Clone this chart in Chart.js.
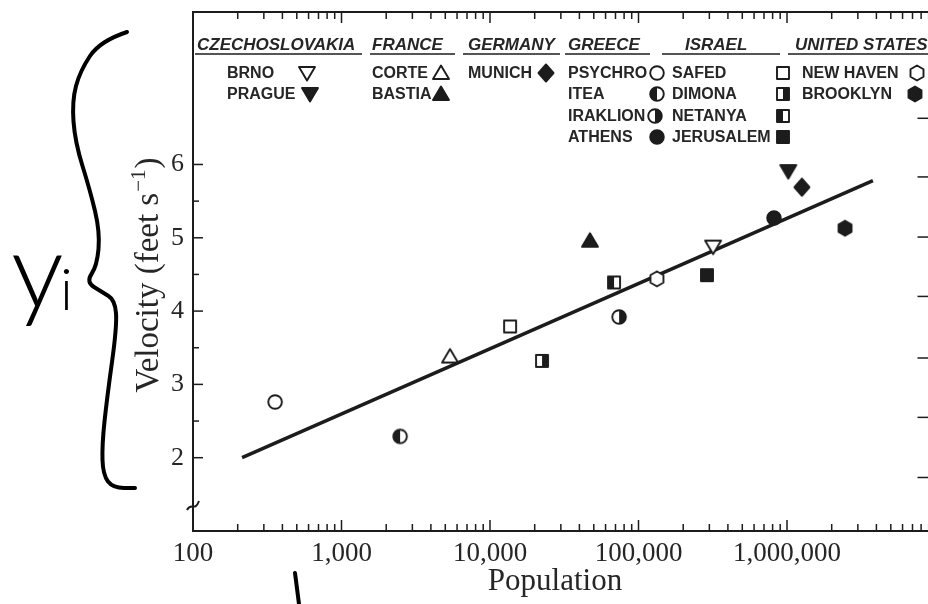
<!DOCTYPE html>
<html>
<head>
<meta charset="utf-8">
<script src="https://cdn.jsdelivr.net/npm/chart.js@4.4.1/dist/chart.umd.min.js"></script>
<style>
  html, body { margin: 0; padding: 0; background: #fff; overflow: hidden; }
  #wrap { position: relative; width: 945px; height: 604px; }
</style>
</head>
<body>
<div id="wrap"><canvas id="chart"></canvas></div>
<script>
// walking speed vs. city population
const cities = ['BRNO', 'PRAGUE', 'CORTE', 'BASTIA', 'MUNICH', 'PSYCHRO', 'ITEA', 'IRAKLION', 'ATHENS',
  'SAFED', 'DIMONA', 'NETANYA', 'JERUSALEM', 'NEW HAVEN', 'BROOKLYN'];
const countryOf = [0, 0, 1, 1, 2, 3, 3, 3, 3, 4, 4, 4, 4, 5, 5];
const population = [318000, 1020000, 5380, 47100, 1260000, 357, 2480, 74000, 817000,
  13650, 22400, 68400, 289000, 133000, 2460000];
const velocity = [4.88, 5.91, 3.38, 4.96, 5.69, 2.76, 2.29, 3.92, 5.27,
  3.79, 3.32, 4.39, 4.49, 4.44, 5.13];
const markers = ['triDownOpen', 'triDown', 'triUpOpen', 'triUp', 'diamond', 'circleOpen', 'circleLeft', 'circleRight', 'circle',
  'squareOpen', 'squareRight', 'squareLeft', 'square', 'hexOpen', 'hex'];
const countries = ['CZECHOSLOVAKIA', 'FRANCE', 'GERMANY', 'GREECE', 'ISRAEL', 'UNITED STATES'];

// fitted line end points
const fitPopulation = [214, 3790000];
const fitVelocity = [2.0, 5.78];

const xDecades = [100, 1000, 10000, 100000, 1000000];
const xTickLabels = ['100', '1,000', '10,000', '100,000', '1,000,000'];
const yTickValues = [2, 2.5, 3, 3.5, 4, 4.5, 5, 5.5, 6];
const yTickLabels = ['2', '3', '4', '5', '6'];
const rightTicks = [1.73, 2.55, 3.36, 4.2, 5.01, 5.83, 6.63]; // right-side ticks, read in ft/s

const INK = '#1c1c1c';
const TXT = '#262626';

// legend placement (text x, row, symbol x) and header placement
const headerX = [197, 372, 468, 568, 685, 795];
const underline = [[195, 362], [370, 455], [463, 560], [565, 650], [662, 780], [788, 945]];
const rowY = [73, 94, 116, 137];
const entryPos = [[227, 0, 307], [227, 1, 310], [372, 0, 441], [372, 1, 441], [468, 0, 546],
  [568, 0, 657], [568, 1, 657], [568, 2, 655], [568, 3, 657],
  [672, 0, 783], [672, 1, 783], [672, 2, 783], [672, 3, 783],
  [802, 0, 917], [802, 1, 915]];

function makeMarker(kind) {
  const s = 20, m = 10;
  const c = document.createElement('canvas');
  c.width = s; c.height = s;
  const g = c.getContext('2d');
  g.strokeStyle = INK; g.fillStyle = INK; g.lineWidth = 1.9; g.lineJoin = 'round';
  const open = kind.endsWith('Open');
  const shape = kind.replace('Open', '').replace(/(Left|Right)$/, '');
  const half = kind.endsWith('Left') ? 'L' : kind.endsWith('Right') ? 'R' : '';
  g.beginPath();
  if (shape === 'triUp') { g.moveTo(m, m - 7.5); g.lineTo(m + 8, m + 6); g.lineTo(m - 8, m + 6); g.closePath(); }
  else if (shape === 'triDown') { g.moveTo(m, m + 7.5); g.lineTo(m + 8, m - 6); g.lineTo(m - 8, m - 6); g.closePath(); }
  else if (shape === 'diamond') { g.moveTo(m, m - 8.5); g.lineTo(m + 7.5, m); g.lineTo(m, m + 8.5); g.lineTo(m - 7.5, m); g.closePath(); }
  else if (shape === 'circle') { g.arc(m, m, 6.8, 0, Math.PI * 2); }
  else if (shape === 'square') { g.rect(m - 6, m - 6, 12, 12); }
  else if (shape === 'hex') {
    for (let k = 0; k < 6; k++) {
      const a = Math.PI / 6 + k * Math.PI / 3;
      const px = m + 7.5 * Math.cos(a), py = m + 7.5 * Math.sin(a);
      k ? g.lineTo(px, py) : g.moveTo(px, py);
    }
    g.closePath();
  }
  if (open || half) {
    g.fillStyle = '#fff'; g.fill(); g.stroke();
    if (half) {
      g.save(); g.clip();
      g.fillStyle = INK;
      if (half === 'L') g.fillRect(0, 0, m, s); else g.fillRect(m, 0, m, s);
      g.restore();
    }
  } else {
    g.fill(); g.stroke();
  }
  return c;
}
const markerImg = {};
markers.forEach(k => { markerImg[k] = makeMarker(k); });

function isDecade(v) {
  const e = Math.log10(v);
  return Math.abs(e - Math.round(e)) < 1e-9;
}

function line(g, x1, y1, x2, y2) {
  g.beginPath(); g.moveTo(x1, y1); g.lineTo(x2, y2); g.stroke();
}

function smoothPath(g, pts) {
  g.beginPath();
  g.moveTo(pts[0][0], pts[0][1]);
  for (let i = 1; i < pts.length - 1; i++) {
    const mx = (pts[i][0] + pts[i + 1][0]) / 2, my = (pts[i][1] + pts[i + 1][1]) / 2;
    g.quadraticCurveTo(pts[i][0], pts[i][1], mx, my);
  }
  const last = pts[pts.length - 1];
  g.lineTo(last[0], last[1]);
  g.stroke();
}

const paper = {
  id: 'paper',
  beforeDraw(chart) {
    const g = chart.ctx;
    g.save(); g.fillStyle = '#fff'; g.fillRect(0, 0, chart.width, chart.height); g.restore();
  },
  afterDatasetsDraw(chart) {
    const g = chart.ctx, a = chart.chartArea, xs = chart.scales.x, ys = chart.scales.y;
    g.save();
    g.strokeStyle = INK;
    g.lineWidth = 2;
    g.strokeRect(a.left, a.top, a.right - a.left, a.bottom - a.top);

    // inward ticks
    g.lineWidth = 1.5;
    xs.ticks.forEach(t => {
      const px = xs.getPixelForValue(t.value);
      const len = isDecade(t.value) ? 11 : 7;
      line(g, px, a.bottom, px, a.bottom - len);
      line(g, px, a.top, px, a.top + len);
    });
    ys.ticks.forEach(t => {
      const py = ys.getPixelForValue(t.value);
      line(g, a.left, py, a.left + (Number.isInteger(t.value) ? 10 : 6), py);
    });
    rightTicks.forEach(v => {
      const py = ys.getPixelForValue(v);
      line(g, a.right, py, a.right - 18, py);
    });

    // axis breaks
    g.lineWidth = 2;
    [a.left, a.right].forEach(bx => {
      g.beginPath();
      g.moveTo(bx - 6, 510); g.bezierCurveTo(bx - 2, 502, bx + 2, 512, bx + 6, 501);
      g.stroke();
    });

    // legend
    g.fillStyle = TXT;
    g.textAlign = 'left';
    g.textBaseline = 'alphabetic';
    g.font = 'italic bold 17px "Liberation Sans"';
    countries.forEach((n, i) => g.fillText(n, headerX[i], 50));
    g.lineWidth = 1.5;
    underline.forEach(([x1, x2]) => line(g, x1, 54, x2, 54));
    g.font = 'bold 16px "Liberation Sans"';
    g.textBaseline = 'middle';
    cities.forEach((c, i) => {
      const [tx, r, sx] = entryPos[i];
      g.fillText(c, tx, rowY[r] + 1);
      g.drawImage(markerImg[markers[i]], sx - 10, rowY[r] - 10);
    });

    // axis titles
    g.fillStyle = TXT;
    g.font = '31px "Liberation Serif"';
    g.textAlign = 'center';
    g.textBaseline = 'middle';
    g.fillText('Population', 555, 582);

    g.save();
    g.translate(147, 275);
    g.rotate(-Math.PI / 2);
    const main = 'Velocity (feet s', sup = '\u22121', end = ')';
    g.font = '33px "Liberation Serif"';
    const w1 = g.measureText(main).width, w3 = g.measureText(end).width;
    g.font = '21px "Liberation Serif"';
    const w2 = g.measureText(sup).width;
    const px = -(w1 + w2 + w3 + 2) / 2;
    g.textAlign = 'left';
    g.textBaseline = 'alphabetic';
    g.font = '33px "Liberation Serif"';
    g.fillText(main, px, 11);
    g.font = '21px "Liberation Serif"';
    g.fillText(sup, px + w1 + 1, -2);
    g.font = '33px "Liberation Serif"';
    g.fillText(end, px + w1 + w2 + 2, 11);
    g.restore();

    // handwritten annotation
    g.strokeStyle = '#000';
    g.lineWidth = 4;
    g.lineCap = 'round'; g.lineJoin = 'round';
    smoothPath(g, [[127, 32], [100, 41], [80, 71], [72, 101], [75, 142], [90, 190], [100, 232], [97, 266],
      [86, 282], [102, 292], [115, 300], [117, 326], [107, 398], [102, 445], [103, 475], [113, 488], [135, 488]]);
    line(g, 295, 573, 299, 604);
    g.fillStyle = '#000';
    g.textAlign = 'left';
    g.textBaseline = 'alphabetic';
    g.font = '300 105px Lato';
    g.fillText('y', 11, 308);
    g.font = '300 58px Lato';
    g.fillText('i', 60, 310);
    g.restore();
  }
};

const chart = new Chart(document.getElementById('chart'), {
  type: 'scatter',
  data: {
    datasets: [{
      data: population.map((p, i) => ({ x: p, y: velocity[i] })),
      pointStyle: ctx => markerImg[markers[ctx.dataIndex]],
      pointRadius: 8,
      pointHoverRadius: 8
    }, {
      type: 'line',
      data: fitPopulation.map((p, i) => ({ x: p, y: fitVelocity[i] })),
      showLine: true,
      borderColor: INK,
      borderWidth: 3.5,
      pointRadius: 0,
      fill: false
    }]
  },
  options: {
    responsive: true,
    maintainAspectRatio: false,
    animation: false,
    events: [],
    layout: { padding: { top: 12, right: 9.5, left: 0, bottom: 0 } },
    scales: {
      x: {
        type: 'logarithmic',
        min: 100,
        max: 10000000,
        grid: { display: false, drawTicks: false },
        border: { display: false },
        afterBuildTicks: s => {
          const t = [];
          xDecades.forEach(d => { for (let k = 1; k < 10; k++) t.push({ value: d * k }); });
          t.push({ value: 10000000 });
          s.ticks = t;
        },
        afterFit: s => { s.height = 73; s.paddingLeft = 0; s.paddingRight = 0; },
        ticks: {
          autoSkip: false, maxRotation: 0, minRotation: 0, padding: 7,
          color: TXT,
          font: { family: '"Liberation Serif"', size: 27 },
          callback: v => {
            const i = xDecades.indexOf(v);
            return i >= 0 ? xTickLabels[i] : '';
          }
        }
      },
      y: {
        min: 1,
        max: 8.08,
        grid: { display: false, drawTicks: false },
        border: { display: false },
        afterBuildTicks: s => { s.ticks = yTickValues.map(v => ({ value: v })); },
        afterFit: s => { s.width = 193; s.paddingTop = 0; s.paddingBottom = 0; },
        ticks: {
          autoSkip: false, padding: 9,
          color: TXT,
          font: { family: '"Liberation Serif"', size: 26 },
          callback: v => Number.isInteger(v) ? yTickLabels[v - 2] : ''
        }
      }
    },
    plugins: {
      legend: { display: false },
      tooltip: { enabled: false }
    }
  },
  plugins: [paper]
});
</script>
</body>
</html>
